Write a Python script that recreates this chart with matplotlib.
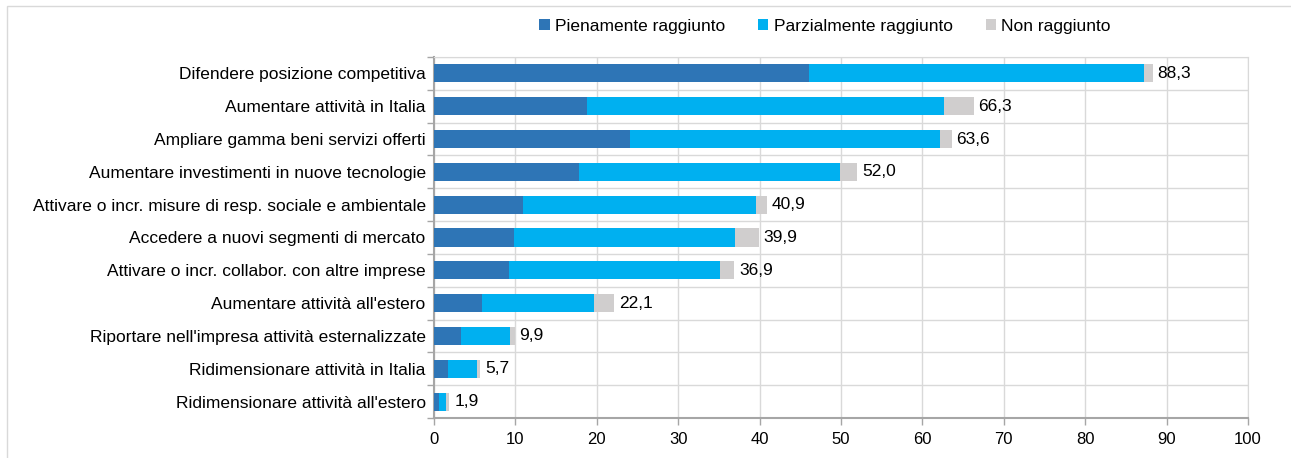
import matplotlib
matplotlib.use("Agg")
import matplotlib.pyplot as plt
from matplotlib.patches import Rectangle
import numpy as np

plt.rcParams['font.family'] = ['Liberation Sans', 'DejaVu Sans']

categories = [
    "Difendere posizione competitiva",
    "Aumentare attività in Italia",
    "Ampliare gamma beni servizi offerti",
    "Aumentare investimenti in nuove tecnologie",
    "Attivare o incr. misure di resp. sociale e ambientale",
    "Accedere a nuovi segmenti di mercato",
    "Attivare o incr. collabor. con altre imprese",
    "Aumentare attività all'estero",
    "Riportare nell'impresa attività esternalizzate",
    "Ridimensionare attività in Italia",
    "Ridimensionare attività all'estero",
]
pienamente = [46.1, 18.8, 24.1, 17.8, 10.9, 9.8, 9.2, 5.9, 3.3, 1.7, 0.6]
parzialmente = [41.1, 43.8, 38.1, 32.1, 28.6, 27.2, 25.9, 13.7, 6.0, 3.6, 0.9]
totale = [88.3, 66.3, 63.6, 52.0, 40.9, 39.9, 36.9, 22.1, 9.9, 5.7, 1.9]
non_raggiunto = [round(t - a - b, 1) for t, a, b in zip(totale, pienamente, parzialmente)]
labels_tot = ["88,3", "66,3", "63,6", "52,0", "40,9", "39,9", "36,9", "22,1", "9,9", "5,7", "1,9"]
series_names = ["Pienamente raggiunto", "Parzialmente raggiunto", "Non raggiunto"]
colors = ["#2E75B6", "#00B0F0", "#D0CECE"]
xticks = list(range(0, 101, 10))

FS = 12.5

W, H = 1291, 458
fig = plt.figure(figsize=(W / 100, H / 100), dpi=100)
# outer border
fig.patches.append(Rectangle((7 / W, -0.1), 1.2, (H - 6) / H + 0.1, transform=fig.transFigure,
                             fill=False, edgecolor="#D9D9D9", linewidth=1.0))

left, right, top, bottom = 434, 1248, 57, 418
ax = fig.add_axes([left / W, 1 - bottom / H, (right - left) / W, (bottom - top) / H])

n = len(categories)
y = np.arange(n)
p = np.array(pienamente)
q = np.array(parzialmente)
r = np.array(non_raggiunto)
h = 0.55
ax.barh(y, p, height=h, color=colors[0], label=series_names[0], zorder=3)
ax.barh(y, q, left=p, height=h, color=colors[1], label=series_names[1], zorder=3)
ax.barh(y, r, left=p + q, height=h, color=colors[2], label=series_names[2], zorder=3)

for yi, t, lab in zip(y, totale, labels_tot):
    ax.text(t + 0.6, yi, lab, va="center", ha="left", fontsize=FS, color="#000000")

ax.set_ylim(n - 0.5, -0.5)
ax.set_xlim(0, 100)
ax.set_xticks(xticks)
ax.set_xticklabels([str(v) for v in xticks], fontsize=12)
ax.set_yticks(y)
ax.set_yticklabels(categories, fontsize=FS)
ax.set_yticks(np.arange(-0.5, n, 1), minor=True)
ax.tick_params(axis="y", which="major", length=0, pad=6)
ax.tick_params(axis="y", which="minor", length=5, color="#A6A6A6", width=1)
ax.tick_params(axis="x", which="major", length=5, color="#A6A6A6", width=1, pad=5)

ax.grid(axis="x", which="major", color="#D9D9D9", linewidth=1, zorder=0)
ax.grid(axis="y", which="minor", color="#D9D9D9", linewidth=1, zorder=0)
ax.set_axisbelow(True)
for s in ["top", "right"]:
    ax.spines[s].set_color("#D9D9D9")
for s in ["left", "bottom"]:
    ax.spines[s].set_color("#A6A6A6")
    ax.spines[s].set_linewidth(1.5)

leg = fig.legend(loc="center", bbox_to_anchor=(825 / W, 1 - 26 / H), ncol=3, frameon=False,
                 fontsize=FS, handlelength=0.6, handleheight=0.6, handletextpad=0.3,
                 columnspacing=1.9)

fig.savefig("out.png", dpi=100)
